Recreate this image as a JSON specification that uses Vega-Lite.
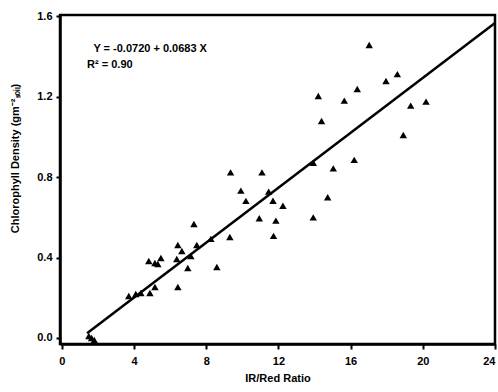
{
  "$schema": "https://vega.github.io/schema/vega-lite/v6.json",
  "width": 435,
  "height": 329,
  "autosize": "none",
  "padding": {"left": 60, "top": 15, "right": 3, "bottom": 48},
  "background": "white",
  "config": {
    "font": "Liberation Sans",
    "view": {"stroke": "black", "strokeWidth": 2.5},
    "axis": {
      "domainColor": "black", "domainWidth": 2.5, "tickColor": "black", "tickWidth": 2,
      "labelFont": "Liberation Sans", "labelFontWeight": "bold", "labelFontSize": 11, "labelColor": "black",
      "titleFont": "Liberation Sans", "titleFontWeight": "bold", "titleFontSize": 11, "titleColor": "black",
      "grid": false
    }
  },
  "datasets": {
    "pts": [
      {"ratio": 1.5, "chl": 0.01}, {"ratio": 1.65, "chl": 0.0}, {"ratio": 1.8, "chl": -0.01},
      {"ratio": 3.71, "chl": 0.209}, {"ratio": 4.1, "chl": 0.219}, {"ratio": 4.38, "chl": 0.224},
      {"ratio": 4.88, "chl": 0.224}, {"ratio": 5.16, "chl": 0.254}, {"ratio": 4.82, "chl": 0.383},
      {"ratio": 5.16, "chl": 0.373}, {"ratio": 5.32, "chl": 0.368}, {"ratio": 5.49, "chl": 0.398},
      {"ratio": 6.43, "chl": 0.254}, {"ratio": 6.37, "chl": 0.393}, {"ratio": 6.43, "chl": 0.463},
      {"ratio": 6.65, "chl": 0.433}, {"ratio": 6.98, "chl": 0.348}, {"ratio": 7.15, "chl": 0.408},
      {"ratio": 7.32, "chl": 0.567}, {"ratio": 7.48, "chl": 0.463}, {"ratio": 8.26, "chl": 0.493},
      {"ratio": 8.59, "chl": 0.353}, {"ratio": 9.31, "chl": 0.502}, {"ratio": 9.35, "chl": 0.824},
      {"ratio": 9.92, "chl": 0.733}, {"ratio": 10.2, "chl": 0.682}, {"ratio": 10.94, "chl": 0.596},
      {"ratio": 11.09, "chl": 0.824}, {"ratio": 11.46, "chl": 0.728}, {"ratio": 11.7, "chl": 0.683},
      {"ratio": 11.86, "chl": 0.584}, {"ratio": 11.73, "chl": 0.508}, {"ratio": 12.25, "chl": 0.658},
      {"ratio": 13.93, "chl": 0.6}, {"ratio": 13.93, "chl": 0.872}, {"ratio": 14.21, "chl": 1.204},
      {"ratio": 14.39, "chl": 1.08}, {"ratio": 14.73, "chl": 0.7}, {"ratio": 15.04, "chl": 0.844},
      {"ratio": 15.65, "chl": 1.181}, {"ratio": 16.2, "chl": 0.886}, {"ratio": 16.37, "chl": 1.239},
      {"ratio": 17.03, "chl": 1.458}, {"ratio": 17.96, "chl": 1.279}, {"ratio": 18.59, "chl": 1.313},
      {"ratio": 18.92, "chl": 1.01}, {"ratio": 19.33, "chl": 1.156}, {"ratio": 20.18, "chl": 1.176}
    ],
    "fit": [
      {"ratio": 1.4, "chl": 0.0236}, {"ratio": 24, "chl": 1.567}
    ],
    "notes": [
      {"ratio": 1.75, "chl": 1.44, "label": "Y = -0.0720 + 0.0683 X"},
      {"ratio": 1.4, "chl": 1.36, "label": "R² = 0.90"}
    ]
  },
  "layer": [
    {
      "data": {"name": "pts"},
      "mark": {"type": "point", "shape": "triangle-up", "filled": true, "color": "black", "size": 55, "opacity": 1},
      "encoding": {
        "x": {"field": "ratio", "type": "quantitative",
          "scale": {"domain": [-0.1, 24], "nice": false, "zero": false},
          "axis": {"values": [0, 4, 8, 12, 16, 20, 24], "title": "IR/Red Ratio", "tickSize": 5, "labelPadding": 6, "titlePadding": 6}},
        "y": {"field": "chl", "type": "quantitative",
          "scale": {"domain": [-0.03, 1.607], "nice": false, "zero": false},
          "axis": {"values": [0, 0.4, 0.8, 1.2, 1.6], "format": ".1f", "title": "Chlorophyll Density (gm⁻²ₛₒᵢₗ)", "tickSize": 4, "labelPadding": 4, "titleX": -45, "titleY": 143, "titleBaseline": "middle"}}
      }
    },
    {
      "data": {"name": "fit"},
      "mark": {"type": "line", "color": "black", "strokeWidth": 2.5},
      "encoding": {
        "x": {"field": "ratio", "type": "quantitative"},
        "y": {"field": "chl", "type": "quantitative"}
      }
    },
    {
      "data": {"name": "notes"},
      "mark": {"type": "text", "align": "left", "baseline": "middle", "fontSize": 11, "fontWeight": "bold", "color": "black", "font": "Liberation Sans"},
      "encoding": {
        "x": {"field": "ratio", "type": "quantitative"},
        "y": {"field": "chl", "type": "quantitative"},
        "text": {"field": "label"}
      }
    }
  ]
}
